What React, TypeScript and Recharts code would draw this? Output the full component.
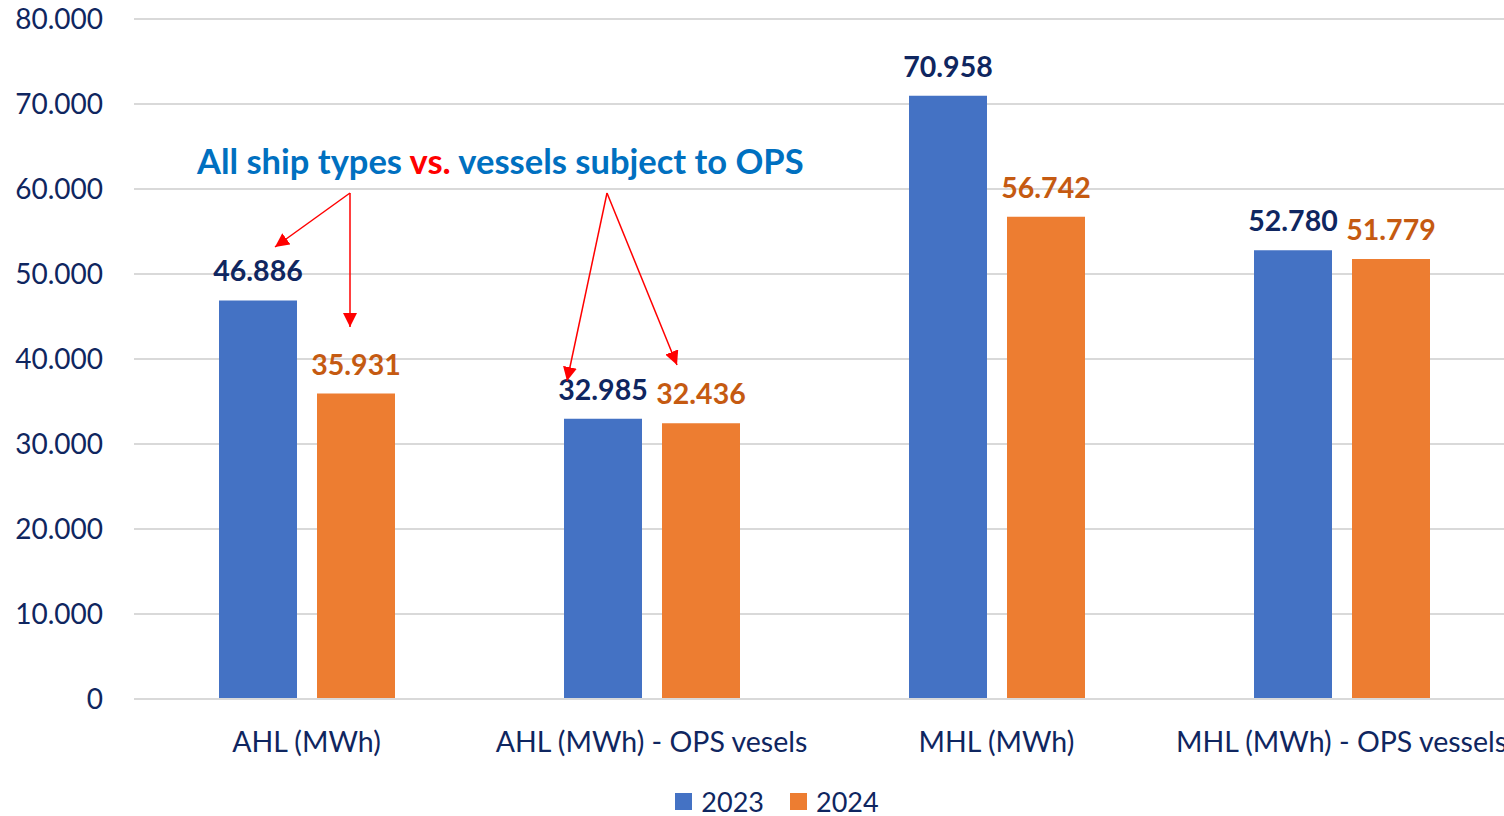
import React from "react";
import { BarChart, Bar, XAxis, YAxis, CartesianGrid, Legend, LabelList } from "recharts";

const categories = ["AHL (MWh)", "AHL (MWh) - OPS vesels", "MHL (MWh)", "MHL (MWh) - OPS vessels"];
const values2023 = [46886, 32985, 70958, 52780];
const values2024 = [35931, 32436, 56742, 51779];
const yTicks = [0, 10000, 20000, 30000, 40000, 50000, 60000, 70000, 80000];
const seriesNames = ["2023", "2024"];

const data = categories.map((c, i) => ({ name: c, y2023: values2023[i], y2024: values2024[i] }));

const FONT = "Lato, 'Open Sans', sans-serif";
const NAVY = "#0f2660";
const BLUE = "#4472C4";
const ORANGE = "#ED7D31";

const fmt = (v: any) => {
  const n = Number(v);
  if (n === 0) return "0";
  return (n / 1000).toFixed(3);
};

const LegendContent = () => (
  <div style={{ display: "flex", justifyContent: "center", alignItems: "center", height: 30, fontFamily: FONT, fontSize: 27, color: NAVY, paddingLeft: 40 }}>
    {[BLUE, ORANGE].map((c, i) => (
      <div key={i} style={{ display: "flex", alignItems: "center", marginLeft: i ? 26 : 0 }}>
        <span style={{ display: "inline-block", width: 17, height: 17, background: c, marginRight: 9 }} />
        <span>{seriesNames[i]}</span>
      </div>
    ))}
  </div>
);

export default function App() {
  return (
    <div style={{ position: "fixed", left: 0, top: 0, width: 1504, height: 816, overflow: "hidden", background: "#fff" }}>
      <BarChart
        width={1552}
        height={816}
        data={data}
        margin={{ top: 19, right: 38, bottom: 0, left: 0 }}
        barGap={20}
        barCategoryGap={84}
      >
        <CartesianGrid vertical={false} stroke="#d9d9d9" strokeWidth={2} />
        <XAxis
          dataKey="name"
          height={87}
          tickLine={false}
          tickSize={0}
          tickMargin={33}
          axisLine={{ stroke: "#d9d9d9", strokeWidth: 2 }}
          tick={{ fill: NAVY, fontSize: 28.5, fontFamily: FONT }}
          interval={0}
        />
        <YAxis
          width={134}
          domain={[0, 80000]}
          ticks={yTicks}
          tickFormatter={fmt}
          tickLine={false}
          tickSize={0}
          tickMargin={31}
          axisLine={false}
          tick={{ fill: NAVY, fontSize: 28, fontFamily: FONT }}
        />
        <Legend verticalAlign="bottom" content={<LegendContent />} />
        <Bar dataKey="y2023" name={seriesNames[0]} fill={BLUE} barSize={78} isAnimationActive={false}>
          <LabelList dataKey="y2023" position="top" offset={19} formatter={fmt} fill={NAVY} fontSize={28.5} fontWeight={700} fontFamily={FONT} />
        </Bar>
        <Bar dataKey="y2024" name={seriesNames[1]} fill={ORANGE} barSize={78} isAnimationActive={false}>
          <LabelList dataKey="y2024" position="top" offset={19} formatter={fmt} fill="#C55A11" fontSize={28.5} fontWeight={700} fontFamily={FONT} />
        </Bar>
      </BarChart>
      <div style={{ position: "absolute", left: 197, top: 139, fontFamily: FONT, fontWeight: 700, fontSize: 34.5, color: "#0070C0", whiteSpace: "nowrap", lineHeight: "44px" }}>
        All ship types <span style={{ color: "#FF0000" }}>vs.</span> vessels subject to OPS
      </div>
      <svg style={{ position: "absolute", left: 0, top: 0 }} width={1504} height={816}>
        <defs>
          <marker id="ah" viewBox="0 0 10 10" refX="10" refY="5" markerWidth="14" markerHeight="14" markerUnits="userSpaceOnUse" orient="auto">
            <path d="M0,0 L10,5 L0,10 z" fill="#FF0000" />
          </marker>
        </defs>
        <g stroke="#FF0000" strokeWidth={1.5} fill="none">
          <line x1={350} y1={193} x2={275} y2={247} markerEnd="url(#ah)" />
          <line x1={350} y1={193} x2={350} y2={327} markerEnd="url(#ah)" />
          <line x1={607} y1={193} x2={567} y2={381} markerEnd="url(#ah)" />
          <line x1={607} y1={193} x2={677} y2={365} markerEnd="url(#ah)" />
        </g>
      </svg>
    </div>
  );
}
